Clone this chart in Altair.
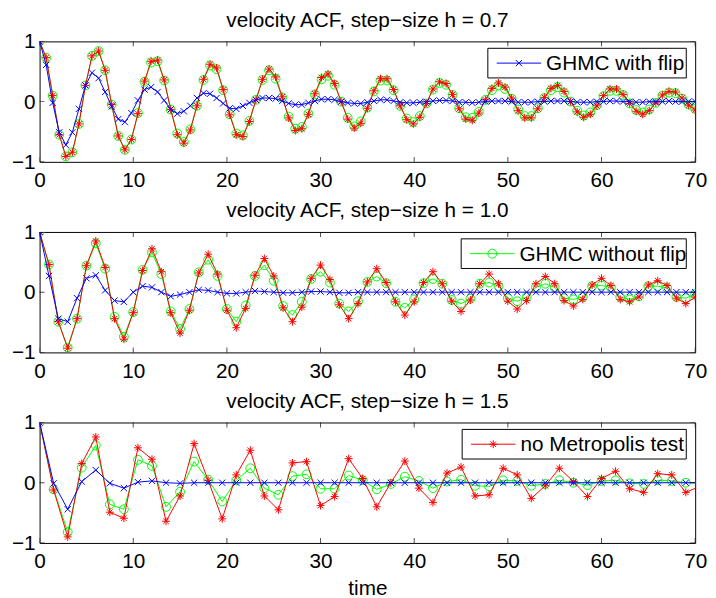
import altair as alt
import pandas as pd

SERIES = ["GHMC with flip", "GHMC without flip", "no Metropolis test"]
COLORS = {"GHMC with flip": "#0000ff", "GHMC without flip": "#00ff00", "no Metropolis test": "#ff0000"}
X_PATH = "M-1,-1L1,1M-1,1L1,-1"
STAR_PATH = "M-1,0L1,0M0,-1L0,1M-0.7,-0.7L0.7,0.7M-0.7,0.7L0.7,-0.7"
SHAPES = {"GHMC with flip": X_PATH, "GHMC without flip": "circle", "no Metropolis test": STAR_PATH}
SIZES = {"GHMC with flip": 40, "GHMC without flip": 80, "no Metropolis test": 64}

STEPS = [0.7, 1.0, 1.5]
TITLES = ["velocity ACF, step\u2212size h = 0.7",
          "velocity ACF, step\u2212size h = 1.0",
          "velocity ACF, step\u2212size h = 1.5"]
XTICKS = [0, 10, 20, 30, 40, 50, 60, 70]
YTICKS = [-1, 0, 1]
YLABELS = ["\u22121", "0", "1"]

# ---- h = 0.7 ----
RED_1 = [1.0, 0.73, 0.10, -0.55, -0.91, -0.84, -0.37, 0.27, 0.76, 0.84,
         0.52, -0.05, -0.57, -0.80, -0.63, -0.20, 0.34, 0.67, 0.69, 0.36,
         -0.13, -0.55, -0.69, -0.47, -0.07, 0.37, 0.62, 0.56, 0.20, -0.22,
         -0.55, -0.58, -0.33, 0.03, 0.37, 0.54, 0.41, 0.08, -0.27, -0.48,
         -0.45, -0.21, 0.13, 0.40, 0.46, 0.30, 0.00, -0.29, -0.44, -0.36,
         -0.11, 0.18, 0.38, 0.38, 0.20, -0.07, -0.30, -0.37, -0.26, -0.03,
         0.21, 0.33, 0.30, 0.12, -0.12, -0.29, -0.31, -0.19, 0.03, 0.22,
         0.31, 0.24, 0.06, -0.15, -0.27, -0.27, -0.12, 0.07, 0.22, 0.27,
         0.17, 0.00, -0.17, -0.26, -0.21, -0.07, 0.10, 0.21, 0.21, 0.12,
         -0.03, -0.16, -0.21, -0.15, -0.02, 0.11, 0.17, 0.16, 0.06, -0.06,
         -0.14]
GREEN_1 = [1.0, 0.73, 0.10, -0.55, -0.91, -0.84, -0.37, 0.27, 0.76, 0.84,
           0.52, -0.05, -0.57, -0.80, -0.63, -0.19, 0.33, 0.65, 0.67, 0.35,
           -0.13, -0.53, -0.67, -0.46, -0.07, 0.36, 0.60, 0.54, 0.19, -0.21,
           -0.53, -0.56, -0.32, 0.03, 0.36, 0.52, 0.38, 0.07, -0.25, -0.45,
           -0.42, -0.20, 0.12, 0.37, 0.43, 0.28, 0.00, -0.27, -0.41, -0.33,
           -0.10, 0.17, 0.35, 0.35, 0.19, -0.07, -0.28, -0.34, -0.24, -0.03,
           0.20, 0.31, 0.28, 0.11, -0.11, -0.26, -0.27, -0.17, 0.03, 0.19,
           0.27, 0.21, 0.05, -0.13, -0.24, -0.24, -0.11, 0.06, 0.19, 0.24,
           0.15, 0.00, -0.15, -0.23, -0.18, -0.06, 0.09, 0.18, 0.18, 0.11,
           -0.03, -0.14, -0.18, -0.13, -0.02, 0.10, 0.15, 0.14, 0.05, -0.05,
           -0.12]
BLUE_1 = [1.0, 0.61, -0.02, -0.51, -0.72, -0.51, -0.12, 0.27, 0.48, 0.39,
          0.16, -0.08, -0.29, -0.34, -0.19, 0.02, 0.20, 0.24, 0.16, 0.02,
          -0.13, -0.20, -0.16, -0.07, 0.06, 0.14, 0.13, 0.06, -0.03, -0.11,
          -0.12, -0.07, -0.02, 0.03, 0.06, 0.06, 0.05, 0.01, -0.03, -0.05,
          -0.05, -0.02, 0.01, 0.04, 0.04, 0.03, 0.00, -0.02, -0.03, -0.03,
          -0.01, 0.01, 0.03, 0.03, 0.01, -0.01, -0.02, -0.02, -0.01, 0.00,
          0.01, 0.02, 0.02, 0.01, -0.01, -0.01, -0.02, -0.01, 0.00, 0.01,
          0.01, 0.01, 0.00, -0.01, -0.01, -0.01, 0.00, 0.00, 0.01, 0.01,
          0.01, 0.00, -0.01, -0.01, -0.01, 0.00, 0.00, 0.01, 0.01, 0.00,
          0.00, -0.01, -0.01, 0.00, 0.00, 0.00, 0.01, 0.00, 0.00, 0.00,
          0.00]

# ---- h = 1.0 ----
RED_2 = [1.0, 0.46, -0.49, -0.93, -0.44, 0.44, 0.85, 0.41, -0.44, -0.78,
         -0.34, 0.36, 0.72, 0.34, -0.34, -0.68, -0.30, 0.32, 0.63, 0.30,
         -0.30, -0.59, -0.27, 0.28, 0.56, 0.27, -0.26, -0.49, -0.25, 0.23,
         0.45, 0.21, -0.21, -0.44, -0.19, 0.17, 0.39, 0.16, -0.16, -0.38,
         -0.16, 0.16, 0.34, 0.14, -0.15, -0.32, -0.13, 0.14, 0.30, 0.14,
         -0.15, -0.28, -0.14, 0.14, 0.26, 0.14, -0.14, -0.23, -0.12, 0.12,
         0.23, 0.11, -0.12, -0.16, -0.08, 0.12, 0.19, 0.11, -0.10, -0.19,
         -0.08]
GREEN_2 = [1.0, 0.46, -0.49, -0.92, -0.44, 0.44, 0.81, 0.39, -0.41, -0.74,
           -0.33, 0.37, 0.66, 0.30, -0.32, -0.61, -0.28, 0.33, 0.54, 0.27,
           -0.28, -0.49, -0.22, 0.27, 0.45, 0.19, -0.23, -0.38, -0.16, 0.22,
           0.34, 0.16, -0.19, -0.32, -0.15, 0.17, 0.26, 0.15, -0.16, -0.26,
           -0.12, 0.15, 0.22, 0.14, -0.13, -0.19, -0.11, 0.14, 0.16, 0.10,
           -0.10, -0.15, -0.08, 0.08, 0.14, 0.08, -0.10, -0.12, -0.08, 0.10,
           0.11, 0.08, -0.08, -0.12, -0.07, 0.10, 0.10, 0.07, -0.08, -0.10,
           -0.03]
BLUE_2 = [1.0, 0.27, -0.44, -0.49, -0.10, 0.23, 0.28, 0.03, -0.14, -0.16,
          0.00, 0.10, 0.08, 0.00, -0.07, -0.04, 0.00, 0.04, 0.03, 0.00,
          -0.02, -0.02, 0.00, 0.02, 0.01, 0.00, -0.01, -0.01, 0.00, 0.01,
          0.01, 0.00, -0.01, -0.01, 0.00, 0.00, 0.00, 0.00, 0.00, 0.00,
          0.00, 0.00, 0.00, 0.00, 0.00, 0.00, 0.00, 0.00, 0.00, 0.00,
          0.00, 0.00, 0.00, 0.00, 0.00, 0.00, 0.00, 0.00, 0.00, 0.00,
          0.00, 0.00, 0.00, 0.00, 0.00, 0.00, 0.00, 0.00, 0.00, 0.00,
          0.00]

# ---- h = 1.5 (last sample lies just past t = 70) ----
RED_3 = [1.0, -0.12, -0.90, 0.32, 0.76, -0.49, -0.59, 0.58, 0.39, -0.64,
         -0.22, 0.65, 0.04, -0.60, 0.13, 0.54, -0.22, -0.45, 0.33, 0.35,
         -0.38, -0.23, 0.40, 0.07, -0.40, 0.00, 0.36, -0.09, -0.33, 0.16,
         0.26, -0.22, -0.20, 0.24, 0.13, -0.26, -0.05, 0.24, 0.02, -0.23,
         0.07, 0.19, -0.10, -0.16, 0.15, 0.13, -0.16, -0.06]
GREEN_3 = [1.0, -0.11, -0.82, 0.25, 0.62, -0.36, -0.44, 0.38, 0.28, -0.40,
           -0.15, 0.35, 0.05, -0.31, 0.04, 0.24, -0.09, -0.20, 0.11, 0.14,
           -0.10, -0.10, 0.12, 0.04, -0.11, -0.02, 0.10, 0.03, -0.09, 0.02,
           0.05, -0.05, -0.06, 0.04, 0.03, -0.05, -0.02, 0.04, 0.00, -0.04,
           0.03, 0.04, -0.01, -0.02, 0.04, 0.03, 0.00, 0.00]
BLUE_3 = [1.0, -0.01, -0.44, 0.02, 0.21, -0.01, -0.09, 0.01, 0.03, 0.00,
          -0.01, 0.00, 0.00, 0.00, 0.00, 0.00, 0.00, 0.00, 0.00, 0.00,
          0.00, 0.00, 0.00, 0.00, 0.00, 0.00, 0.00, 0.00, 0.00, 0.00,
          0.00, 0.00, 0.00, 0.00, 0.00, 0.00, 0.00, 0.00, 0.00, 0.00,
          0.00, 0.00, 0.00, 0.00, 0.00, 0.00, 0.00, 0.00]

BLUES = [BLUE_1, BLUE_2, BLUE_3]
GREENS = [GREEN_1, GREEN_2, GREEN_3]
REDS = [RED_1, RED_2, RED_3]

FONT = "Liberation Sans"
FS = 21
W, PH = 664, 122
LEG_W = [201, 228, 227]


def panel(i, last):
    h = STEPS[i]
    vals = {SERIES[0]: BLUES[i], SERIES[1]: GREENS[i], SERIES[2]: REDS[i]}
    rows = []
    for s, v in vals.items():
        for k, y in enumerate(v):
            rows.append({"t": round(k * h, 3), "v": y, "s": s})
    df = pd.DataFrame(rows)

    xs = alt.Scale(domain=[0, 70], nice=False, zero=False)
    ys = alt.Scale(domain=[-1, 1], nice=False, zero=False)
    xax = alt.Axis(values=XTICKS, tickSize=0, domain=False, grid=False,
                   labelFontSize=FS, labelFont=FONT, labelColor="black",
                   labelPadding=8, labelFlush=False, labelOverlap=False, format="d",
                   title="time" if last else None, titleFontSize=FS,
                   titleFont=FONT, titleFontWeight="normal", titleColor="black",
                   titlePadding=6)
    yax = alt.Axis(values=YTICKS, tickSize=0, domain=False, grid=False,
                   labels=False, title=None)
    X = alt.X("t:Q", scale=xs, axis=xax)
    Y = alt.Y("v:Q", scale=ys, axis=yax)

    layers = []
    for s in [SERIES[1], SERIES[2], SERIES[0]]:
        sub = alt.Chart(df).transform_filter(alt.datum.s == s)
        layers.append(sub.mark_line(color=COLORS[s], strokeWidth=1, clip=True).encode(x=X, y=Y))
        layers.append(sub.mark_point(shape=SHAPES[s], size=SIZES[s], filled=False,
                                     color=COLORS[s], strokeWidth=1, opacity=1,
                                     clip=True).encode(x=X, y=Y))

    xt = pd.DataFrame({"t": XTICKS})
    yt = pd.DataFrame({"v": YTICKS, "lbl": YLABELS})
    for yv in [0, PH]:
        layers.append(alt.Chart(xt).mark_tick(orient="vertical", size=10, thickness=1,
                                              color="black", clip=True)
                      .encode(x=X, y=alt.value(yv)))
    for xv in [0, W]:
        layers.append(alt.Chart(yt).mark_tick(orient="horizontal", size=10, thickness=1,
                                              color="black", clip=True)
                      .encode(y=Y, x=alt.value(xv)))
    # y tick labels
    layers.append(alt.Chart(yt).mark_text(align="right", baseline="middle", fontSize=FS,
                                          font=FONT, color="black", dx=-4, dy=1)
                  .encode(y=Y, x=alt.value(0), text="lbl:N"))

    # legend box with one entry
    s = SERIES[i]
    right, top, bh = 655, 7, 30
    left = right - LEG_W[i]
    one = pd.DataFrame({"s": [s]})
    cy = top + bh / 2
    layers.append(alt.Chart(one).mark_rect(fill="white", stroke="black", strokeWidth=1)
                  .encode(x=alt.value(left), x2=alt.value(right),
                          y=alt.value(top), y2=alt.value(top + bh)))
    layers.append(alt.Chart(one).mark_rule(color=COLORS[s], strokeWidth=1)
                  .encode(x=alt.value(left + 9), x2=alt.value(left + 54),
                          y=alt.value(cy)))
    layers.append(alt.Chart(one).mark_point(shape=SHAPES[s], size=SIZES[s], filled=False,
                                            color=COLORS[s], strokeWidth=1, opacity=1)
                  .encode(x=alt.value(left + 31.5), y=alt.value(cy)))
    layers.append(alt.Chart(one).mark_text(align="left", baseline="middle", fontSize=FS,
                                           font=FONT, color="black")
                  .encode(x=alt.value(left + 59), y=alt.value(cy + 1), text="s:N"))

    return alt.layer(*layers).properties(
        width=W, height=PH,
        title=alt.TitleParams(text=TITLES[i], fontSize=FS, font=FONT,
                              fontWeight="normal", color="black", offset=1))


chart = alt.vconcat(panel(0, False), panel(1, False), panel(2, True),
                    spacing=71, bounds="flush").properties(
    padding={"left": 3, "top": -3, "right": 0, "bottom": 0}
).configure(font=FONT).configure_view(stroke="black", strokeWidth=1)

chart.save("out.html", embed_options={"renderer": "svg", "actions": False})
